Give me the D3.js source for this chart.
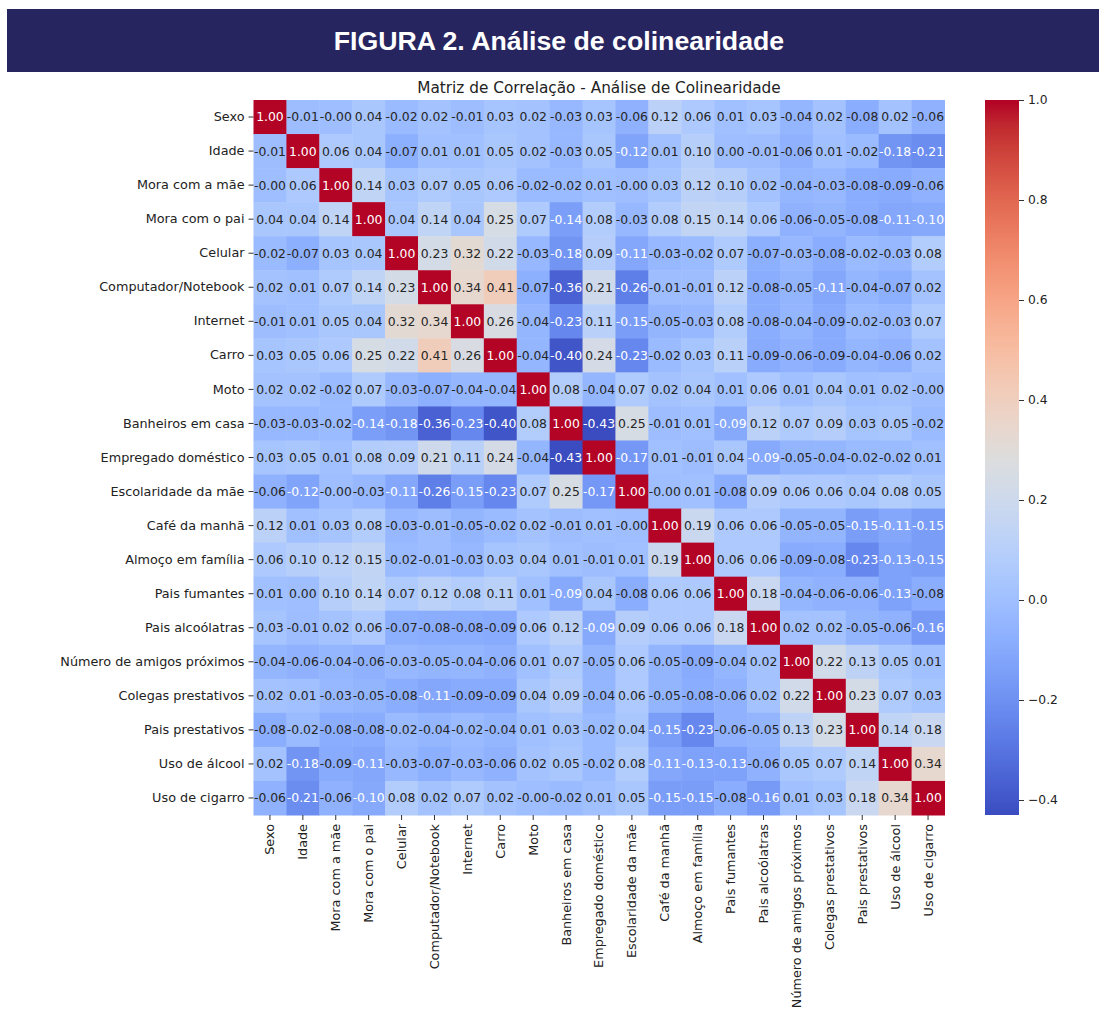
<!DOCTYPE html>
<html>
<head>
<meta charset="utf-8">
<script src="https://cdn.jsdelivr.net/npm/d3@7"></script>
<style>
  html, body { margin: 0; padding: 0; background: #ffffff; }
  svg { display: block; }
</style>
</head>
<body>
<svg id="chart" width="1099" height="1011"></svg>
<script>
// Variables in the correlation matrix (row order = column order)
const variables = [
  "Sexo", "Idade", "Mora com a mãe", "Mora com o pai", "Celular",
  "Computador/Notebook", "Internet", "Carro", "Moto", "Banheiros em casa",
  "Empregado doméstico", "Escolaridade da mãe", "Café da manhã",
  "Almoço em família", "Pais fumantes", "Pais alcoólatras",
  "Número de amigos próximos", "Colegas prestativos", "Pais prestativos",
  "Uso de álcool", "Uso de cigarro"
];

// Pearson correlations, one array per row
const rowSexo      = [1.00, -0.01, -0.00, 0.04, -0.02, 0.02, -0.01, 0.03, 0.02, -0.03, 0.03, -0.06, 0.12, 0.06, 0.01, 0.03, -0.04, 0.02, -0.08, 0.02, -0.06];
const rowIdade     = [-0.01, 1.00, 0.06, 0.04, -0.07, 0.01, 0.01, 0.05, 0.02, -0.03, 0.05, -0.12, 0.01, 0.10, 0.00, -0.01, -0.06, 0.01, -0.02, -0.18, -0.21];
const rowMae       = [-0.00, 0.06, 1.00, 0.14, 0.03, 0.07, 0.05, 0.06, -0.02, -0.02, 0.01, -0.00, 0.03, 0.12, 0.10, 0.02, -0.04, -0.03, -0.08, -0.09, -0.06];
const rowPai       = [0.04, 0.04, 0.14, 1.00, 0.04, 0.14, 0.04, 0.25, 0.07, -0.14, 0.08, -0.03, 0.08, 0.15, 0.14, 0.06, -0.06, -0.05, -0.08, -0.11, -0.10];
const rowCelular   = [-0.02, -0.07, 0.03, 0.04, 1.00, 0.23, 0.32, 0.22, -0.03, -0.18, 0.09, -0.11, -0.03, -0.02, 0.07, -0.07, -0.03, -0.08, -0.02, -0.03, 0.08];
const rowComputador= [0.02, 0.01, 0.07, 0.14, 0.23, 1.00, 0.34, 0.41, -0.07, -0.36, 0.21, -0.26, -0.01, -0.01, 0.12, -0.08, -0.05, -0.11, -0.04, -0.07, 0.02];
const rowInternet  = [-0.01, 0.01, 0.05, 0.04, 0.32, 0.34, 1.00, 0.26, -0.04, -0.23, 0.11, -0.15, -0.05, -0.03, 0.08, -0.08, -0.04, -0.09, -0.02, -0.03, 0.07];
const rowCarro     = [0.03, 0.05, 0.06, 0.25, 0.22, 0.41, 0.26, 1.00, -0.04, -0.40, 0.24, -0.23, -0.02, 0.03, 0.11, -0.09, -0.06, -0.09, -0.04, -0.06, 0.02];
const rowMoto      = [0.02, 0.02, -0.02, 0.07, -0.03, -0.07, -0.04, -0.04, 1.00, 0.08, -0.04, 0.07, 0.02, 0.04, 0.01, 0.06, 0.01, 0.04, 0.01, 0.02, -0.00];
const rowBanheiros = [-0.03, -0.03, -0.02, -0.14, -0.18, -0.36, -0.23, -0.40, 0.08, 1.00, -0.43, 0.25, -0.01, 0.01, -0.0949, 0.12, 0.07, 0.09, 0.03, 0.05, -0.02];
const rowEmpregado = [0.03, 0.05, 0.01, 0.08, 0.09, 0.21, 0.11, 0.24, -0.04, -0.43, 1.00, -0.17, 0.01, -0.01, 0.04, -0.0949, -0.05, -0.04, -0.02, -0.02, 0.01];
const rowEscolaridade = [-0.06, -0.12, -0.00, -0.03, -0.11, -0.26, -0.15, -0.23, 0.07, 0.25, -0.17, 1.00, -0.00, 0.01, -0.08, 0.09, 0.06, 0.06, 0.04, 0.08, 0.05];
const rowCafe      = [0.12, 0.01, 0.03, 0.08, -0.03, -0.01, -0.05, -0.02, 0.02, -0.01, 0.01, -0.00, 1.00, 0.19, 0.06, 0.06, -0.05, -0.05, -0.15, -0.11, -0.15];
const rowAlmoco    = [0.06, 0.10, 0.12, 0.15, -0.02, -0.01, -0.03, 0.03, 0.04, 0.01, -0.01, 0.01, 0.19, 1.00, 0.06, 0.06, -0.09, -0.08, -0.23, -0.13, -0.15];
const rowFumantes  = [0.01, 0.00, 0.10, 0.14, 0.07, 0.12, 0.08, 0.11, 0.01, -0.0949, 0.04, -0.08, 0.06, 0.06, 1.00, 0.18, -0.04, -0.06, -0.06, -0.13, -0.08];
const rowAlcoolatras = [0.03, -0.01, 0.02, 0.06, -0.07, -0.08, -0.08, -0.09, 0.06, 0.12, -0.0949, 0.09, 0.06, 0.06, 0.18, 1.00, 0.02, 0.02, -0.05, -0.06, -0.16];
const rowAmigos    = [-0.04, -0.06, -0.04, -0.06, -0.03, -0.05, -0.04, -0.06, 0.01, 0.07, -0.05, 0.06, -0.05, -0.09, -0.04, 0.02, 1.00, 0.22, 0.13, 0.05, 0.01];
const rowColegas   = [0.02, 0.01, -0.03, -0.05, -0.08, -0.11, -0.09, -0.09, 0.04, 0.09, -0.04, 0.06, -0.05, -0.08, -0.06, 0.02, 0.22, 1.00, 0.23, 0.07, 0.03];
const rowPaisPrest = [-0.08, -0.02, -0.08, -0.08, -0.02, -0.04, -0.02, -0.04, 0.01, 0.03, -0.02, 0.04, -0.15, -0.23, -0.06, -0.05, 0.13, 0.23, 1.00, 0.14, 0.18];
const rowAlcool    = [0.02, -0.18, -0.09, -0.11, -0.03, -0.07, -0.03, -0.06, 0.02, 0.05, -0.02, 0.08, -0.11, -0.13, -0.13, -0.06, 0.05, 0.07, 0.14, 1.00, 0.34];
const rowCigarro   = [-0.06, -0.21, -0.06, -0.10, 0.08, 0.02, 0.07, 0.02, -0.00, -0.02, 0.01, 0.05, -0.15, -0.15, -0.08, -0.16, 0.01, 0.03, 0.18, 0.34, 1.00];

const matrix = [rowSexo, rowIdade, rowMae, rowPai, rowCelular, rowComputador,
  rowInternet, rowCarro, rowMoto, rowBanheiros, rowEmpregado, rowEscolaridade,
  rowCafe, rowAlmoco, rowFumantes, rowAlcoolatras, rowAmigos, rowColegas,
  rowPaisPrest, rowAlcool, rowCigarro];

const colorbarTicks = [-0.4, -0.2, 0.0, 0.2, 0.4, 0.6, 0.8, 1.0];

// ---- coolwarm colormap (Moreland diverging), 256-level lookup ----
const cwStops = [0, 0.03125, 0.0625, 0.09375, 0.125, 0.15625, 0.1875, 0.21875, 0.25, 0.28125, 0.3125, 0.34375, 0.375, 0.40625, 0.4375, 0.46875, 0.5, 0.53125, 0.5625, 0.59375, 0.625, 0.65625, 0.6875, 0.71875, 0.75, 0.78125, 0.8125, 0.84375, 0.875, 0.90625, 0.9375, 0.96875, 1.0];
const cwR = [0.2298057, 0.26623388, 0.30386891, 0.342804478, 0.38301334, 0.424369608, 0.46666708, 0.509635204, 0.552953156, 0.596262162, 0.639176211, 0.681291281, 0.722193294, 0.761464949, 0.798691636, 0.833466556, 0.865395197, 0.897787179, 0.924127593, 0.944468518, 0.958852946, 0.96732803, 0.969954137, 0.966811177, 0.958003065, 0.943660866, 0.923944917, 0.89904617, 0.869186849, 0.834620542, 0.795631745, 0.752534934, 0.705673158];
const cwG = [0.298717966, 0.353094838, 0.406535296, 0.458757618, 0.50941904, 0.558148092, 0.604562568, 0.648280772, 0.688929332, 0.726149107, 0.759599947, 0.788964712, 0.813952739, 0.834302879, 0.849786142, 0.860207984, 0.86541021, 0.848937047, 0.827384882, 0.800927443, 0.769767752, 0.734132809, 0.694266682, 0.650421156, 0.602842431, 0.551750968, 0.49730856, 0.439559467, 0.378313092, 0.312874446, 0.24128379, 0.157246067, 0.01555616];
const cwB = [0.753683153, 0.801466763, 0.84495867, 0.883725899, 0.917387822, 0.945619588, 0.968154911, 0.98478814, 0.995375608, 0.999836203, 0.998154626, 0.990382956, 0.976641446, 0.957115263, 0.932106391, 0.901842667, 0.865395197, 0.820880546, 0.774508472, 0.726736146, 0.678007945, 0.628751763, 0.579375448, 0.530263762, 0.481775914, 0.434243684, 0.387970225, 0.343229596, 0.300267182, 0.259301199, 0.220525627, 0.184115123, 0.150232812];

function cwChannel(arr, t) {
  let i = Math.min(cwStops.length - 2, Math.floor(t / 0.03125));
  const f = (t - cwStops[i]) / (cwStops[i + 1] - cwStops[i]);
  return arr[i] + f * (arr[i + 1] - arr[i]);
}
function coolwarmRGB(t) {
  t = Math.max(0, Math.min(1, t));
  const idx = Math.min(255, Math.floor(t * 256));
  const tq = idx / 255;
  return [cwChannel(cwR, tq), cwChannel(cwG, tq), cwChannel(cwB, tq)];
}
function coolwarm(t) {
  const c = coolwarmRGB(t);
  return d3.rgb(c[0] * 255, c[1] * 255, c[2] * 255).formatHex();
}
function luminance(hex) {
  const c = d3.rgb(hex);
  const lin = v => { v /= 255; return v <= 0.03928 ? v / 12.92 : Math.pow((v + 0.055) / 1.055, 2.4); };
  return 0.2126 * lin(c.r) + 0.7152 * lin(c.g) + 0.0722 * lin(c.b);
}

// ---- layout ----
const svg = d3.select("#chart");
const plot = { left: 253.5, top: 100, width: 691, height: 715 };
const cbar = { left: 985, top: 100, width: 34, height: 715 };

const vmin = d3.min(matrix.flat());
const vmax = d3.max(matrix.flat());
const color = d3.scaleSequential(coolwarm).domain([vmin, vmax]);

const x = d3.scaleBand().domain(variables).range([plot.left, plot.left + plot.width]);
const y = d3.scaleBand().domain(variables).range([plot.top, plot.top + plot.height]);

const fmtCell = v => (v < 0 || Object.is(v, -0) ? "-" : "") + Math.abs(v).toFixed(2);

// header band
svg.append("rect").attr("x", 7).attr("y", 9).attr("width", 1092).attr("height", 63)
  .attr("fill", "#27255f");
svg.append("text").attr("x", 559).attr("y", 50)
  .attr("text-anchor", "middle")
  .attr("font-family", "'Liberation Sans', Arial, sans-serif")
  .attr("font-weight", "bold").attr("font-size", 26.7).attr("fill", "#ffffff")
  .text("FIGURA 2. Análise de colinearidade");

// chart title
svg.append("text").attr("x", plot.left + plot.width / 2).attr("y", 93)
  .attr("text-anchor", "middle")
  .attr("font-family", "'DejaVu Sans', sans-serif").attr("font-size", 15.3).attr("fill", "#222")
  .text("Matriz de Correlação - Análise de Colinearidade");

// cells
const cells = [];
matrix.forEach((row, i) => row.forEach((v, j) => cells.push({ r: variables[i], c: variables[j], v })));

const g = svg.append("g");
g.selectAll("rect.cell").data(cells).join("rect")
  .attr("class", "cell")
  .attr("x", d => x(d.c)).attr("y", d => y(d.r))
  .attr("width", x.bandwidth() + 0.5).attr("height", y.bandwidth() + 0.5)
  .attr("fill", d => color(d.v));

g.selectAll("text.lbl").data(cells).join("text")
  .attr("class", "lbl")
  .attr("x", d => x(d.c) + x.bandwidth() / 2)
  .attr("y", d => y(d.r) + y.bandwidth() / 2)
  .attr("dy", "0.36em")
  .attr("text-anchor", "middle")
  .attr("font-family", "'DejaVu Sans', sans-serif").attr("font-size", 12.4)
  .attr("fill", d => luminance(color(d.v)) > 0.408 ? "#262626" : "#ffffff")
  .text(d => fmtCell(d.v));

// axes
const axisFont = sel => sel.selectAll("text")
  .attr("font-family", "'DejaVu Sans', sans-serif").attr("font-size", 12.8).attr("fill", "#222");

const yAxis = svg.append("g").attr("transform", `translate(${plot.left},0)`)
  .call(d3.axisLeft(y).tickSize(5).tickPadding(4));
yAxis.select(".domain").remove();
yAxis.selectAll("line").attr("stroke", "#333");
axisFont(yAxis);

const xAxis = svg.append("g").attr("transform", `translate(0,${plot.top + plot.height})`)
  .call(d3.axisBottom(x).tickSize(5).tickPadding(4));
xAxis.select(".domain").remove();
xAxis.selectAll("line").attr("stroke", "#333");
axisFont(xAxis);
xAxis.selectAll("text")
  .attr("transform", "rotate(-90)")
  .attr("text-anchor", "end")
  .attr("x", -9).attr("y", 0).attr("dy", "0.35em");

// colorbar
const cScale = d3.scaleLinear().domain([vmin, vmax]).range([cbar.top + cbar.height, cbar.top]);
const defs = svg.append("defs");
const grad = defs.append("linearGradient").attr("id", "cbgrad")
  .attr("x1", 0).attr("y1", 1).attr("x2", 0).attr("y2", 0);
d3.range(0, 257).forEach(k => {
  const t = k / 256;
  grad.append("stop").attr("offset", t).attr("stop-color", coolwarm(Math.min(t, 0.9999)));
});
svg.append("rect").attr("x", cbar.left).attr("y", cbar.top)
  .attr("width", cbar.width).attr("height", cbar.height)
  .attr("fill", "url(#cbgrad)");

const cAxis = svg.append("g").attr("transform", `translate(${cbar.left + cbar.width},0)`)
  .call(d3.axisRight(cScale).tickValues(colorbarTicks).tickFormat(d3.format(".1f")).tickSize(5).tickPadding(4));
cAxis.select(".domain").remove();
cAxis.selectAll("line").attr("stroke", "#333");
axisFont(cAxis);
cAxis.selectAll("text").attr("font-size", 12.3);
</script>
</body>
</html>
